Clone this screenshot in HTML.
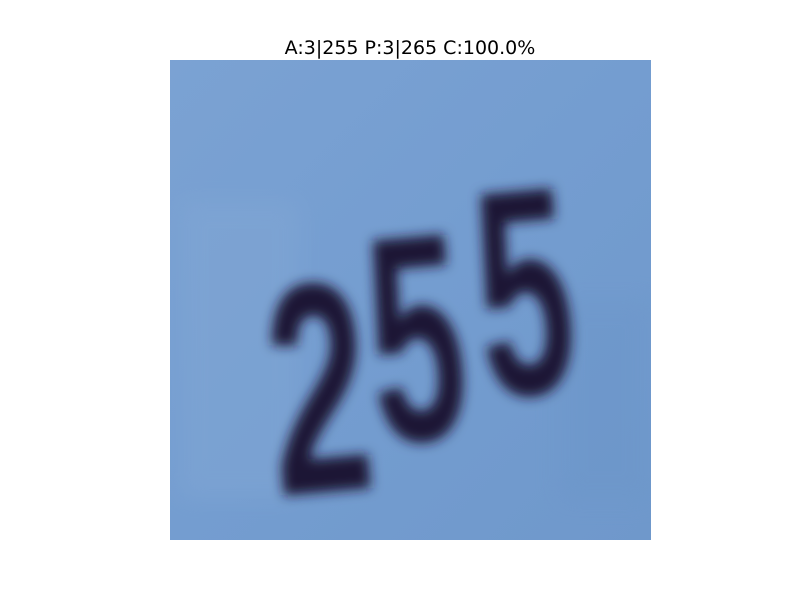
<!DOCTYPE html>
<html>
<head>
<meta charset="utf-8">
<style>
  html, body { margin: 0; padding: 0; background: #ffffff; }
  svg { display: block; }
</style>
</head>
<body>
<svg width="800" height="600" viewBox="0 0 800 600" xmlns="http://www.w3.org/2000/svg">
  <defs>
    <linearGradient id="bg" x1="0" y1="0" x2="1" y2="1">
      <stop offset="0" stop-color="#7ba2d3"/>
      <stop offset="0.5" stop-color="#749dd0"/>
      <stop offset="1" stop-color="#6f98cb"/>
    </linearGradient>
    <filter id="blur" x="-20%" y="-20%" width="140%" height="140%">
      <feGaussianBlur stdDeviation="6"/>
    </filter>
    <filter id="blur2" x="-20%" y="-20%" width="140%" height="140%">
      <feGaussianBlur stdDeviation="12"/>
    </filter>
    <clipPath id="imgclip"><rect x="170" y="60" width="481" height="480"/></clipPath>
  </defs>

  <text x="410" y="54" text-anchor="middle" font-family="DejaVu Sans, Liberation Sans, sans-serif" font-size="19" fill="#000">A:3|255 P:3|265 C:100.0%</text>

  <g clip-path="url(#imgclip)">
    <rect x="170" y="60" width="481" height="480" fill="url(#bg)"/>
    <g filter="url(#blur2)" opacity="0.35">
      <rect x="180" y="200" width="120" height="300" fill="#86aad6"/>
      <rect x="560" y="300" width="90" height="200" fill="#6a94c8"/>
    </g>
    <g filter="url(#blur)" fill="#1c1235" font-family="Liberation Sans, DejaVu Sans, sans-serif" font-weight="bold">
      <text transform="translate(278,496) rotate(-5) scale(0.6,1)" font-size="300">2</text>
      <text transform="translate(378,444) rotate(-5) scale(0.58,1)" font-size="295">5</text>
      <text transform="translate(486,398) rotate(-5) scale(0.58,1)" font-size="295">5</text>
    </g>
  </g>
</svg>
</body>
</html>
